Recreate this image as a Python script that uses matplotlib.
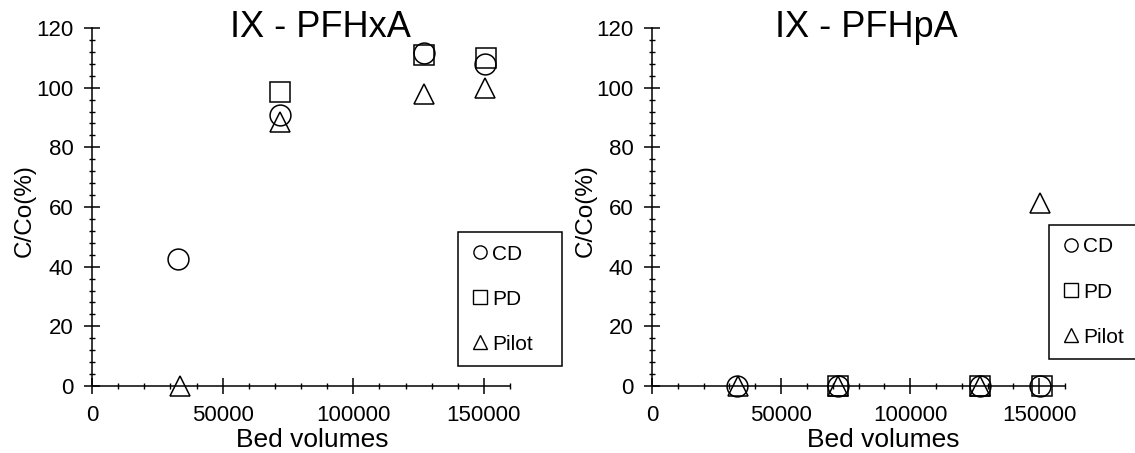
import matplotlib.pyplot as plt
import numpy as np
from matplotlib.lines import Line2D
from matplotlib.ticker import MultipleLocator

plt.rcParams['font.family'] = ['Liberation Sans', 'DejaVu Sans']

# bed volumes of the sampling points
bv_cd = [33000, 72000, 127000, 150500]
bv_pd = [33000, 72000, 127000, 151000]
bv_pilot = [33500, 72000, 127000, 150500]

# C/Co (%) for PFHxA
pfhxa_cd = [42.5, 91, 111.5, 108]
pfhxa_pd = [np.nan, 98.5, 111, 110]
pfhxa_pilot = [0, 88.5, 98, 100]

# C/Co (%) for PFHpA
pfhpa_cd = [0, 0, 0, 0]
pfhpa_pd = [np.nan, 0, 0, 0]
pfhpa_pilot = [0, 0, 0, 61.5]

labels = ['CD', 'PD', 'Pilot']
markers = ['o', 's', '^']

W, H = 1135, 453
fig = plt.figure(figsize=(W / 100, H / 100), dpi=100)

ax1 = fig.add_axes([92 / W, 1 - 386 / H, 418 / W, 358 / H])
ax2 = fig.add_axes([652 / W, 1 - 386 / H, 413 / W, 358 / H])


def style_axis(ax, xlab_x):
    for s in ['top', 'right']:
        ax.spines[s].set_visible(False)
    for s in ['left', 'bottom']:
        ax.spines[s].set_linewidth(1.1)
    ax.set_xlim(0, 160000)
    ax.set_ylim(0, 120)
    ax.xaxis.set_major_locator(MultipleLocator(50000))
    ax.xaxis.set_minor_locator(MultipleLocator(10000))
    ax.yaxis.set_major_locator(MultipleLocator(20))
    ax.yaxis.set_minor_locator(MultipleLocator(4))
    ax.tick_params(which='major', direction='inout', length=11, width=1.1,
                   labelsize=16, pad=8)
    ax.tick_params(which='minor', direction='inout', length=5, width=1.0)
    ax.set_xlabel('Bed volumes', fontsize=19)
    ax.set_ylabel('C/Co(%)', fontsize=17.5, va='center')
    ax.xaxis.set_label_coords(xlab_x, -0.118)
    ax.yaxis.set_label_coords(-0.16, 0.49)
    ax.patch.set_alpha(0)


def plot_panel(ax, series):
    for (xs, ys), m in zip(series, markers):
        ax.plot(xs, ys, ls='none', marker=m, ms=15, mfc='none', mec='black',
                mew=1.1, clip_on=False, zorder=3)


plot_panel(ax1, [(bv_cd, pfhxa_cd), (bv_pd, pfhxa_pd), (bv_pilot, pfhxa_pilot)])
plot_panel(ax2, [(bv_cd, pfhpa_cd), (bv_pd, pfhpa_pd), (bv_pilot, pfhpa_pilot)])
style_axis(ax1, 0.526)
style_axis(ax2, 0.56)

fig.text(320 / W, 1 - 37 / H, 'IX - PFHxA', fontsize=26, ha='center', va='baseline')
fig.text(866 / W, 1 - 37 / H, 'IX - PFHpA', fontsize=26, ha='center', va='baseline')

handles = [Line2D([], [], ls='none', marker=m, ms=9.5, mfc='none', mec='black', mew=1.0)
           for m in markers]

for ax, (lx, ly_top) in [(ax1, (458, 232)), (ax2, (1049, 225))]:
    leg = ax.legend(handles, labels, loc='upper left', mode='expand',
                    bbox_to_anchor=(lx / W, 1 - (ly_top + 130) / H, 104 / W, 130 / H),
                    bbox_transform=fig.transFigure, fontsize=15, frameon=True,
                    fancybox=False, framealpha=1, edgecolor='black',
                    handlelength=0.9, handletextpad=0.15, borderpad=0.6,
                    labelspacing=1.25, borderaxespad=0)
    leg.get_frame().set_linewidth(1.1)

fig.savefig('out.png', dpi=100)
